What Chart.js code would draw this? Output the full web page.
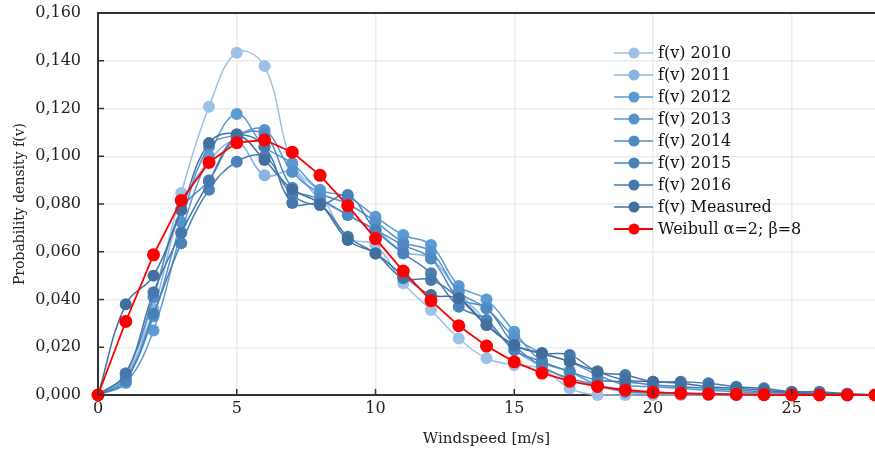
<!DOCTYPE html>
<html lang="en">
<head>
  <meta charset="UTF-8">
  <title>Windspeed probability density</title>
  <script src="https://cdn.jsdelivr.net/npm/chart.js"></script>
  <style>
    html, body { margin: 0; padding: 0; background: #fff; }
    .wrap { width: 875px; height: 452px; }
  </style>
</head>
<body>
  <div class="wrap"><canvas id="chart" width="875" height="452"></canvas></div>

  <script>
    // windspeed bins [m/s]
    const windspeed = [0, 1, 2, 3, 4, 5, 6, 7, 8, 9, 10, 11, 12, 13, 14, 15, 16, 17, 18, 19, 20, 21, 22, 23, 24, 25, 26, 27, 28];

    const f2010 = [0, 0.006, 0.041, 0.0846, 0.1207, 0.1434, 0.1378, 0.097, 0.0845, 0.066, 0.0628, 0.0468, 0.0356, 0.0237, 0.0154, 0.0126, 0.011, 0.0028, 0, 0, 0, 0, 0, 0, 0, 0, 0, 0, 0];
    const f2011 = [0, 0.008, 0.036, 0.078, 0.098, 0.106, 0.092, 0.0935, 0.082, 0.0754, 0.0691, 0.060, 0.0572, 0.043, 0.031, 0.019, 0.0119, 0.0063, 0.0035, 0.0014, 0.0007, 0.0005, 0.0003, 0.0002, 0.0001, 0, 0, 0, 0];
    const f2012 = [0, 0.005, 0.027, 0.068, 0.100, 0.1177, 0.104, 0.097, 0.086, 0.083, 0.0747, 0.067, 0.0628, 0.0457, 0.040, 0.0265, 0.014, 0.0098, 0.0042, 0.002, 0.001, 0.0007, 0.0005, 0.0003, 0.0002, 0.0001, 0, 0, 0];
    const f2013 = [0, 0.007, 0.033, 0.0725, 0.104, 0.109, 0.111, 0.0935, 0.0845, 0.080, 0.0726, 0.064, 0.060, 0.0433, 0.0363, 0.0244, 0.0175, 0.014, 0.0084, 0.0042, 0.0035, 0.0028, 0.002, 0.0014, 0.001, 0.0007, 0.0005, 0.0003, 0];
    const f2014 = [0, 0.009, 0.041, 0.0775, 0.090, 0.108, 0.109, 0.0868, 0.082, 0.0754, 0.0691, 0.0628, 0.0572, 0.0405, 0.0363, 0.0209, 0.0119, 0.007, 0.0042, 0.0014, 0.001, 0.0007, 0.0005, 0.0003, 0.0002, 0.0001, 0, 0, 0];
    const f2015 = [0, 0.006, 0.034, 0.0636, 0.086, 0.0977, 0.0998, 0.0838, 0.0796, 0.0838, 0.0691, 0.0593, 0.051, 0.037, 0.0314, 0.0188, 0.014, 0.0098, 0.0063, 0.0056, 0.0042, 0.0035, 0.0028, 0.0021, 0.0014, 0.001, 0.0005, 0.0003, 0];
    const f2016 = [0, 0.009, 0.043, 0.068, 0.0894, 0.1082, 0.104, 0.0804, 0.0796, 0.0663, 0.0593, 0.0489, 0.0482, 0.0405, 0.0293, 0.0209, 0.0175, 0.0168, 0.0098, 0.0084, 0.0056, 0.0056, 0.0049, 0.0035, 0.0028, 0.0014, 0.0014, 0.0005, 0];
    const fMeasured = [0, 0.038, 0.050, 0.0775, 0.1055, 0.1092, 0.0984, 0.0861, 0.080, 0.0649, 0.0593, 0.050, 0.0419, 0.0405, 0.0293, 0.0209, 0.0175, 0.014, 0.0098, 0.0063, 0.0056, 0.0049, 0.0035, 0.0028, 0.002, 0.001, 0.0007, 0.0003, 0];
    const weibull = [0, 0.0308, 0.0587, 0.0815, 0.0974, 0.1057, 0.1068, 0.1017, 0.0920, 0.0793, 0.0655, 0.0519, 0.0395, 0.0290, 0.0205, 0.0139, 0.0092, 0.0058, 0.0036, 0.0021, 0.0012, 0.0007, 0.0004, 0.0002, 0.0001, 0, 0, 0, 0];

    const labels = ['f(v) 2010', 'f(v) 2011', 'f(v) 2012', 'f(v) 2013', 'f(v) 2014', 'f(v) 2015', 'f(v) 2016', 'f(v) Measured', 'Weibull α=2; β=8'];
    const series = [f2010, f2011, f2012, f2013, f2014, f2015, f2016, fMeasured, weibull];
    const colors = ['#9dc0e6', '#8ab3e1', '#5b9bd5', '#5593cd', '#4f8ac3', '#4a81b8', '#4578ab', '#41709e', '#ff0000'];

    const FONT = '"DejaVu Serif", serif';

    const datasets = series.map((vals, i) => {
      const red = i === series.length - 1;
      return {
        label: labels[i],
        data: vals.map((v, j) => ({ x: windspeed[j], y: v })),
        borderColor: colors[i],
        backgroundColor: colors[i],
        pointBackgroundColor: colors[i],
        pointBorderColor: colors[i],
        pointBorderWidth: 0,
        pointRadius: red ? 6.5 : 6,
        borderWidth: red ? 1.8 : 1.5,
        tension: red ? 0 : 0.4,
        clip: false,
        order: series.length - 1 - i
      };
    });

    // legend drawn inside plot, like the original
    const insideLegend = {
      id: 'insideLegend',
      afterDraw(chart) {
        const ctx = chart.ctx;
        ctx.save();
        // inner tick marks
        const xs = chart.scales.x, ys = chart.scales.y;
        ctx.strokeStyle = '#333';
        ctx.lineWidth = 1.5;
        ys.ticks.forEach(t => {
          const y = ys.getPixelForValue(t.value);
          ctx.beginPath(); ctx.moveTo(xs.left, y); ctx.lineTo(xs.left + 6, y); ctx.stroke();
        });
        xs.ticks.forEach(t => {
          const x = xs.getPixelForValue(t.value);
          ctx.beginPath(); ctx.moveTo(x, ys.bottom); ctx.lineTo(x, ys.bottom - 6); ctx.stroke();
        });

        ctx.font = '16px ' + FONT;
        ctx.textBaseline = 'middle';
        ctx.textAlign = 'left';
        labels.forEach((lab, i) => {
          const y = 53 + i * 22;
          ctx.strokeStyle = colors[i];
          ctx.fillStyle = colors[i];
          ctx.lineWidth = i === labels.length - 1 ? 1.8 : 1.5;
          ctx.beginPath(); ctx.moveTo(614, y); ctx.lineTo(653, y); ctx.stroke();
          ctx.beginPath(); ctx.arc(634, y, 5.5, 0, Math.PI * 2); ctx.fill();
          ctx.fillStyle = '#111';
          ctx.fillText(lab, 658, y + 1);
        });
        ctx.restore();
      }
    };

    new Chart(document.getElementById('chart'), {
      type: 'line',
      data: { datasets },
      plugins: [insideLegend],
      options: {
        responsive: false,
        animation: false,
        layout: { autoPadding: false, padding: { top: 13, right: 0, left: 0, bottom: 0 } },
        plugins: { legend: { display: false }, tooltip: { enabled: false } },
        scales: {
          x: {
            type: 'linear',
            min: 0,
            max: 28,
            afterFit: s => { s.height = 57; s.paddingLeft = 0; s.paddingRight = 0; },
            ticks: { stepSize: 5, includeBounds: false, color: '#222', font: { family: FONT, size: 16 }, padding: 4, maxRotation: 0 },
            grid: { color: ctx => ctx.tick && ctx.tick.value === 0 ? 'rgba(0,0,0,0)' : '#ececec', lineWidth: 1.5, drawTicks: false },
            border: { color: '#333', width: 2 },
            title: { display: true, text: 'Windspeed [m/s]', color: '#222', font: { family: FONT, size: 15 }, padding: { top: 2, bottom: 4 } }
          },
          y: {
            min: 0,
            max: 0.16,
            afterFit: s => { s.width = 98; s.paddingTop = 0; s.paddingBottom = 0; },
            ticks: {
              stepSize: 0.02,
              color: '#222',
              font: { family: FONT, size: 16 },
              padding: 17,
              callback: v => v.toFixed(3).replace('.', ',')
            },
            grid: { color: ctx => ctx.tick && Math.abs(ctx.tick.value - 0.16) < 1e-9 ? '#333' : '#ececec', lineWidth: ctx => ctx.tick && Math.abs(ctx.tick.value - 0.16) < 1e-9 ? 2 : 1.5, drawTicks: false },
            border: { color: '#333', width: 2 },
            title: { display: true, text: 'Probability density f(v)', color: '#222', font: { family: FONT, size: 14 }, padding: { top: 12, bottom: 4 } }
          }
        }
      }
    });
  </script>
</body>
</html>
